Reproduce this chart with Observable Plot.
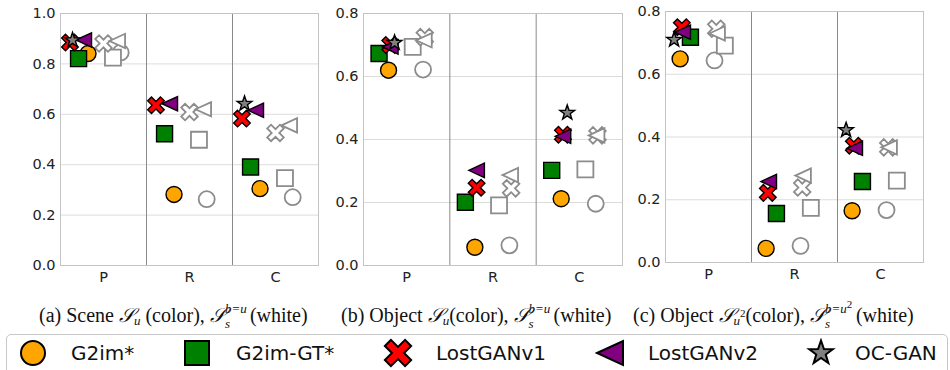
<!DOCTYPE html>
<html><head><meta charset="utf-8">
<script src="https://cdn.jsdelivr.net/npm/d3@7"></script>
<script src="https://cdn.jsdelivr.net/npm/@observablehq/plot@0.6"></script>
<style>
body{margin:0;background:#fff;}
#fig{position:relative;width:950px;height:370px;overflow:hidden;font-family:"DejaVu Sans",sans-serif;}
.panel{position:absolute;top:0;}
.cap{position:absolute;top:302px;font-family:"Liberation Serif",serif;font-size:20px;line-height:24px;white-space:nowrap;color:#111;}
.cap .m{font-style:italic;}
.cap sub{font-size:13px;font-style:italic;vertical-align:-3px;line-height:0;}
.cap sub sup{font-size:11px;font-style:normal;vertical-align:8px;}
.ss{display:inline-block;vertical-align:-8px;font-size:13px;font-style:italic;line-height:0;width:25px;height:28px;position:relative;}
.ss span{position:absolute;left:0;line-height:13px;}
.ss .up{top:0;}
.ss .dn{top:15px;}
.ss sup{font-size:11px;font-style:normal;vertical-align:5px;line-height:0;}
#legend{position:absolute;left:6px;top:334px;width:940px;height:44px;border:1px solid #c8c8c8;border-radius:5px;}
.li{position:absolute;font-size:20px;color:#111;top:341px;line-height:24px;}
.lm{position:absolute;top:338px;}
</style>
</head><body>
<div id="fig"></div>
<script>
// ---------------- data ----------------
const categories = ["P", "R", "C"];
const methods = ["G2im*", "G2im-GT*", "LostGANv1", "LostGANv2", "OC-GAN"];

// (a) Scene — colored markers, rows follow `methods`, columns follow `categories`
const sceneColor = [
  [0.841, 0.282, 0.305],
  [0.821, 0.523, 0.391],
  [0.885, 0.636, 0.583],
  [0.895, 0.642, 0.616],
  [0.894, null, 0.642]
];
// (a) Scene — white markers (first four methods)
const sceneWhite = [
  [0.845, 0.263, 0.271],
  [0.825, 0.499, 0.347],
  [0.881, 0.609, 0.526],
  [0.891, 0.620, 0.556]
];
// (b) Object S_u
const objectColor = [
  [0.620, 0.058, 0.212],
  [0.673, 0.201, 0.302],
  [0.700, 0.247, 0.415],
  [0.694, 0.302, 0.410],
  [0.707, null, 0.485]
];
const objectWhite = [
  [0.622, 0.064, 0.196],
  [0.694, 0.191, 0.305],
  [0.725, 0.245, 0.413],
  [0.715, 0.287, 0.413]
];
// (c) Object S_{u^2}
const object2Color = [
  [0.649, 0.045, 0.165],
  [0.718, 0.156, 0.258],
  [0.750, 0.222, 0.372],
  [0.734, 0.258, 0.364],
  [0.710, null, 0.422]
];
const object2White = [
  [0.644, 0.053, 0.167],
  [0.691, 0.174, 0.261],
  [0.745, 0.239, 0.367],
  [0.730, 0.277, 0.367]
];
const yTicksA = [0, 0.2, 0.4, 0.6, 0.8, 1.0];
const yTicksB = [0, 0.2, 0.4, 0.6, 0.8];

// ---------------- styles ----------------
const fills = ["#FFA500", "#008000", "#FF0000", "#800080", "#808080"];
const sym = (f) => ({draw(ctx, size) { f(ctx, Math.sqrt(size / Math.PI)); }});
function poly(ctx, pts) { ctx.moveTo(pts[0][0], pts[0][1]); for (const p of pts.slice(1)) ctx.lineTo(p[0], p[1]); ctx.closePath(); }
const symCircle = sym((c, r) => { c.moveTo(r, 0); c.arc(0, 0, r, 0, 2 * Math.PI); });
const symSquare = sym((c, r) => { c.rect(-r, -r, 2 * r, 2 * r); });
const symX = sym((c, R) => {
  const L = R * 1.1, w = R * 0.33, s = Math.SQRT1_2;
  const plus = [[L,-w],[L,w],[w,w],[w,L],[-w,L],[-w,w],[-L,w],[-L,-w],[-w,-w],[-w,-L],[w,-L],[w,-w]];
  poly(c, plus.map(([x, y]) => [(x - y) * s, (x + y) * s]));
});
const symLeft = sym((c, R) => { poly(c, [[-R, 0], [R, -R * 0.92], [R, R * 0.92]]); });
const symStar = sym((c, R) => {
  const pts = [];
  for (let k = 0; k < 10; k++) { const a = -Math.PI / 2 + k * Math.PI / 5; const rr = k % 2 ? R * 0.4 : R; pts.push([rr * Math.cos(a), rr * Math.sin(a)]); }
  poly(c, pts);
});
const symbols = [symCircle, symSquare, symX, symLeft, symStar];
const sizes = [8, 8, 8.2, 7.8, 7.8];

function panel(cfg) {
  const colorData = [], whiteData = [];
  cfg.color.forEach((row, i) => row.forEach((v, j) => { if (v != null) colorData.push({m: i, x: j + cfg.colorOff[i], y: v}); }));
  cfg.white.forEach((row, i) => row.forEach((v, j) => { if (v != null) whiteData.push({m: i, x: j + cfg.whiteOff[i], y: v}); }));
  const marks = [
    Plot.gridY(cfg.ticks, {stroke: "#dcdcdc", strokeOpacity: 1, strokeWidth: 1}),
    Plot.ruleX([0.5, 1.5], {stroke: "#8a8a8a", strokeWidth: 1}),
    Plot.frame({stroke: "#c4c4c4", strokeWidth: 1}),
    Plot.axisY(cfg.ticks, {tickSize: 0, tickPadding: 5, tickFormat: d3.format(".1f"), fontSize: 14.5, label: null}),
    Plot.axisX([0, 1, 2], {tickSize: 0, tickPadding: 6, tickFormat: (i) => categories[i], fontSize: 14.5, label: null})
  ];
  methods.forEach((m, i) => {
    if (i < cfg.white.length) marks.push(Plot.dot(whiteData.filter(d => d.m === i), {x: "x", y: "y", symbol: symbols[i], r: sizes[i], fill: "white", stroke: "#8c8c8c", strokeWidth: 1.8}));
  });
  methods.forEach((m, i) => {
    marks.push(Plot.dot(colorData.filter(d => d.m === i), {x: "x", y: "y", symbol: symbols[i], r: sizes[i], fill: fills[i], stroke: "black", strokeWidth: 1.4}));
  });
  const svg = Plot.plot({
    width: cfg.width, height: 290,
    marginLeft: cfg.ml, marginRight: cfg.mr, marginTop: cfg.mt, marginBottom: 290 - cfg.bottom,
    x: {domain: [-0.5, 2.5], label: null},
    y: {domain: [0, cfg.ticks[cfg.ticks.length - 1]], label: null},
    style: {fontFamily: "DejaVu Sans", fontSize: "14.5px", color: "#222", background: "transparent", overflow: "visible"},
    marks
  });
  svg.classList.add("panel");
  svg.style.left = cfg.left + "px";
  return svg;
}

const fig = document.getElementById("fig");
fig.appendChild(panel({left: 0, width: 320, ml: 60, mr: 2, mt: 13, bottom: 265, ticks: yTicksA,
  color: sceneColor, white: sceneWhite,
  colorOff: [-0.18, -0.29, -0.39, -0.23, -0.36], whiteOff: [0.2, 0.11, 0.0, 0.16]}));
fig.appendChild(panel({left: 320, width: 305, ml: 43, mr: 3, mt: 13, bottom: 265, ticks: yTicksB,
  color: objectColor, white: objectWhite,
  colorOff: [-0.21, -0.32, -0.19, -0.19, -0.14], whiteOff: [0.19, 0.07, 0.21, 0.2]}));
fig.appendChild(panel({left: 630, width: 300, ml: 35, mr: 7, mt: 11, bottom: 262, ticks: yTicksB,
  color: object2Color, white: object2White,
  colorOff: [-0.33, -0.21, -0.31, -0.30, -0.40], whiteOff: [0.07, 0.19, 0.09, 0.10]}));

// captions
const caps = [
  {left: 39, html: '(a) Scene <span class="m">𝒮</span><sub>u</sub> (color), <span class="m">𝒮</span><span class="ss"><span class="up">b=u</span><span class="dn">s</span></span>(white)'},
  {left: 341, html: '(b) Object <span class="m">𝒮</span><sub>u</sub>(color), <span class="m">𝒮</span><span class="ss"><span class="up">b=u</span><span class="dn">s</span></span>(white)'},
  {left: 633, html: '(c) Object <span class="m">𝒮</span><sub>u<sup>2</sup></sub>(color), <span class="m">𝒮</span><span class="ss" style="width:31px"><span class="up">b=u<sup>2</sup></span><span class="dn">s</span></span>(white)'}
];
for (const c of caps) { const d = document.createElement("div"); d.className = "cap"; d.style.left = c.left + "px"; d.innerHTML = c.html; fig.appendChild(d); }

// legend
const lg = document.createElement("div"); lg.id = "legend"; fig.appendChild(lg);
const legendMarkX = [33, 197, 398, 610, 821];
const legendTextX = [71, 236, 436, 648, 855];
const legendSizes = [12, 12, 13, 13, 12.5];
methods.forEach((m, i) => {
  const p = d3.path(); symbols[i].draw(p, legendSizes[i] * legendSizes[i] * Math.PI);
  const s = d3.create("svg").attr("class", "lm").attr("width", 32).attr("height", 30)
    .style("left", (legendMarkX[i] - 16) + "px").attr("viewBox", "-16 -15 32 30");
  s.append("path").attr("d", p.toString()).attr("fill", fills[i]).attr("stroke", "black").attr("stroke-width", 2);
  fig.appendChild(s.node());
  const t = document.createElement("div"); t.className = "li"; t.style.left = legendTextX[i] + "px"; t.textContent = m; fig.appendChild(t);
});
</script>
</body></html>
